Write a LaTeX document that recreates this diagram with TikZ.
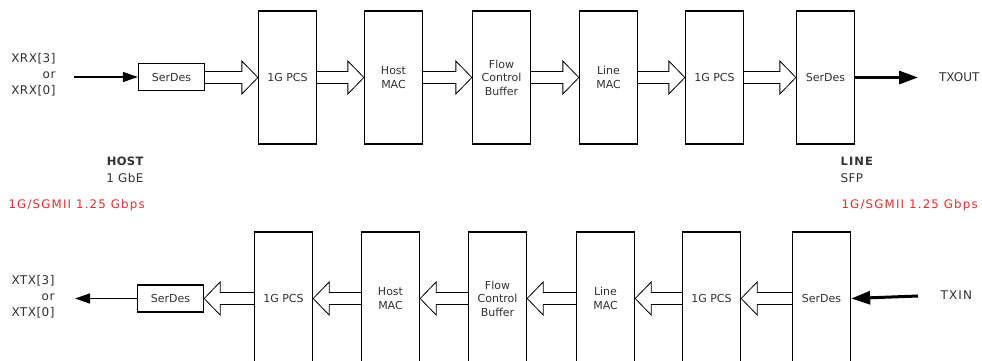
\documentclass[tikz,border=0pt]{standalone}
\usepackage{fontspec}
\setmainfont{DejaVu Sans}
\usepackage{tikz}
\usetikzlibrary{positioning}
\usetikzlibrary{calc,arrows.meta}
\definecolor{rateRed}{RGB}{238,44,44}
\definecolor{inkGray}{RGB}{50,50,50}

% hollow block arrow from one anchor to another
\newcommand{\fatarrow}[2]{%
  \path[fat] let \p1=(#1), \p2=(#2), \n1={sign(\x2-\x1)} in
    (\x1,{\y2+6pt}) -- ({\x2-(\n1)*16pt},{\y2+6pt}) -- ({\x2-(\n1)*16pt},{\y2+16.5pt})
    -- (\x2,\y2) -- ({\x2-(\n1)*16pt},{\y2-16.5pt}) -- ({\x2-(\n1)*16pt},{\y2-6pt})
    -- (\x1,{\y2-6pt});}
% outer label font: size, letter spacing
\newcommand{\lblfont}[2]{\fontsize{#1}{16}\selectfont\addfontfeatures{LetterSpace=#2}}

\begin{document}
\begin{tikzpicture}[x=1pt,y=-1pt,
  font=\fontsize{11}{13.5}\selectfont, text=inkGray,
  block/.style={draw=black,line width=1.3pt,minimum width=58pt,minimum height=133pt,inner sep=0pt,align=center},
  serdes/.style={draw=black,line width=1.3pt,minimum width=66pt,minimum height=27pt,inner sep=0pt},
  fat/.style={draw=black,line width=0.8pt,fill=white},
  sigline/.style={line width=1.5pt,-{Triangle[length=15pt,width=10pt]}},
  padline/.style={line width=3pt,-{Triangle[length=19pt,width=13pt]}},
  pinlabel/.style={align=right,anchor=east,font=\lblfont{12}{4}},
  portlabel/.style={anchor=west,font=\lblfont{12}{10}},
  ratelabel/.style={anchor=west,text=rateRed,font=\lblfont{11.8}{10}}]
  \useasboundingbox (0,0) rectangle (982,360);

  % receive direction (top row)
  \node[serdes] (hsdA) at (171.5,77) {SerDes};
  \node[block] (pcsA) at (287.5,77.5) {1G PCS};
  \node[block] (hmacA) at (393.5,77.5) {Host\\MAC};
  \node[block] (fcbA) at (501.5,77.5) {Flow\\Control\\Buffer};
  \node[block] (lmacA) at (608.5,77.5) {Line\\MAC};
  \node[block] (lpcsA) at (714.5,77.5) {1G PCS};
  \node[block] (lsdA) at (825.5,77.5) {SerDes};
  \node[pinlabel] (xrx) at (59,75) {XRX[3]\\or\\XRX[0]};
  \coordinate (xrxin) at (74,77);
  \coordinate (txout) at (918,77.5);
  \node[anchor=west,font=\lblfont{12}{0}] (txoutlbl) at (935.5,77.5) {TXOUT};
  \draw[sigline] (xrxin) -- (hsdA.west);
  \fatarrow{hsdA.east}{pcsA.west}
  \fatarrow{pcsA.east}{hmacA.west}
  \fatarrow{hmacA.east}{fcbA.west}
  \fatarrow{fcbA.east}{lmacA.west}
  \fatarrow{lmacA.east}{lpcsA.west}
  \fatarrow{lpcsA.east}{lsdA.west}
  \draw[padline] (lsdA.east) -- (txout);

  % side notes
  \node[anchor=east,font=\lblfont{11.5}{3}\bfseries] (host) at (147,161) {HOST};
  \node[anchor=east,font=\lblfont{12}{3}] (hostrate) at (147,178) {1 GbE};
  \node[ratelabel] (hostlink) at (5,205) {1G/SGMII 1.25 Gbps};
  \node[anchor=west,font=\lblfont{11.5}{10}\bfseries] (line) at (837,161) {LINE};
  \node[anchor=west,font=\lblfont{12}{3}] (linerate) at (837,178) {SFP};
  \node[ratelabel] (linelink) at (838,205) {1G/SGMII 1.25 Gbps};

  % transmit direction (bottom row)
  \node[serdes] (hsdB) at (170.5,298.5) {SerDes};
  \node[block] (pcsB) at (283.5,298.5) {1G PCS};
  \node[block] (hmacB) at (390.5,298.5) {Host\\MAC};
  \node[block] (fcbB) at (497.5,298.5) {Flow\\Control\\Buffer};
  \node[block] (lmacB) at (605.5,298.5) {Line\\MAC};
  \node[block] (lpcsB) at (711.5,298.5) {1G PCS};
  \node[block] (lsdB) at (821.5,298.5) {SerDes};
  \node[pinlabel] (xtx) at (58,296.5) {XTX[3]\\or\\XTX[0]};
  \coordinate (xtxout) at (75,298.5);
  \coordinate (txin) at (918,296);
  \node[portlabel] (txinlbl) at (937,295) {TXIN};
  \draw[sigline] (hsdB.west) -- (xtxout);
  \fatarrow{pcsB.west}{hsdB.east}
  \fatarrow{hmacB.west}{pcsB.east}
  \fatarrow{fcbB.west}{hmacB.east}
  \fatarrow{lmacB.west}{fcbB.east}
  \fatarrow{lpcsB.west}{lmacB.east}
  \fatarrow{lsdB.west}{lpcsB.east}
  \draw[padline] (txin) -- (lsdB.east);
\end{tikzpicture}
\end{document}
